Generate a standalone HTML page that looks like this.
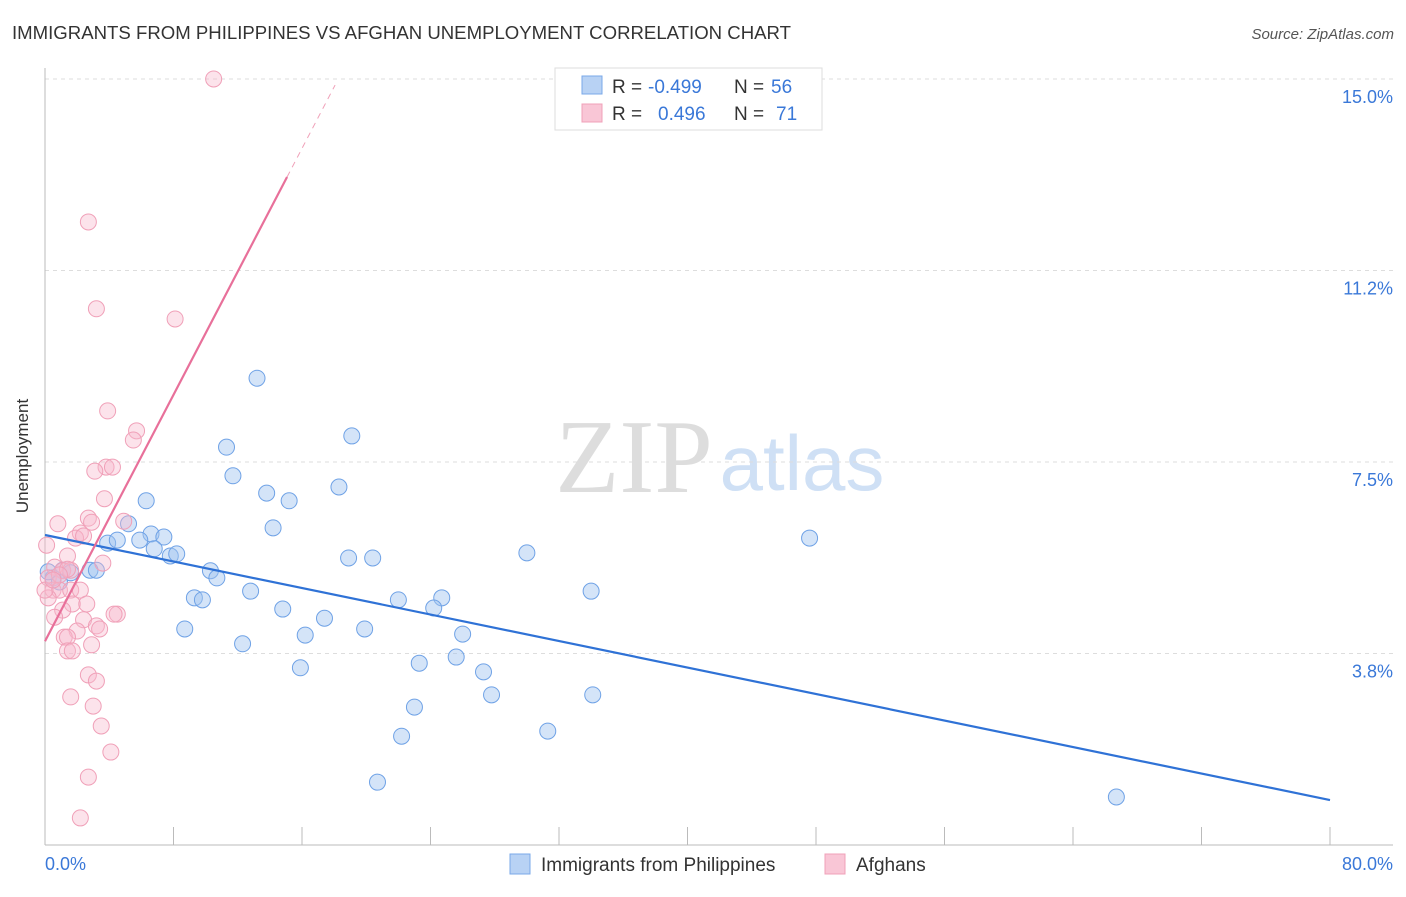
<!DOCTYPE html>
<html><head><meta charset="utf-8"><style>
body{margin:0;background:#fff;font-family:"Liberation Sans",sans-serif;}
</style></head><body>
<svg id="chart" width="1406" height="892" xmlns="http://www.w3.org/2000/svg">
<text x="12" y="39" font-size="18.6" fill="#333">IMMIGRANTS FROM PHILIPPINES VS AFGHAN UNEMPLOYMENT CORRELATION CHART</text>
<text x="1394" y="39" font-size="15" fill="#555" font-style="italic" text-anchor="end">Source: ZipAtlas.com</text>
<text x="634" y="492" font-size="105" fill="#ddd" font-family="Liberation Serif,serif" text-anchor="middle">ZIP</text>
<text x="802" y="490" font-size="78" fill="#cfe0f5" text-anchor="middle">atlas</text>
<g id="grid"></g>
<line x1="45" y1="68" x2="45" y2="845" stroke="#bbb"/>
<line x1="45" y1="845" x2="1393" y2="845" stroke="#bbb"/>
<g id="ticks"></g>
<text x="28" y="456" font-size="17" fill="#333" text-anchor="middle" transform="rotate(-90 28 456)">Unemployment</text>
<text x="45" y="870" font-size="18" fill="#3a78d8">0.0%</text>
<text x="1393" y="870" font-size="18" fill="#3a78d8" text-anchor="end">80.0%</text>
<g id="points"></g>
<g id="trends"></g>
<g>
<rect x="555" y="68" width="267" height="62" fill="#fff" stroke="#ddd"/>
<rect x="582" y="76" width="20" height="18" fill="#b8d2f4" stroke="#7aa8e8"/>
<rect x="582" y="104" width="20" height="18" fill="#f9c6d6" stroke="#f0a0b8"/>
<text y="93" font-size="19" fill="#333"><tspan x="612">R = </tspan><tspan x="648" fill="#3a78d8">-0.499</tspan><tspan x="734">N = </tspan><tspan x="771" fill="#3a78d8">56</tspan></text>
<text y="120" font-size="19" fill="#333"><tspan x="612">R = </tspan><tspan x="658" fill="#3a78d8">0.496</tspan><tspan x="734">N = </tspan><tspan x="776" fill="#3a78d8">71</tspan></text>
</g>
<rect x="510" y="854" width="20" height="20" fill="#b8d2f4" stroke="#7aa8e8"/>
<text x="541" y="871" font-size="19" fill="#333">Immigrants from Philippines</text>
<rect x="825" y="854" width="20" height="20" fill="#f9c6d6" stroke="#f0a0b8"/>
<text x="856" y="871" font-size="19" fill="#333">Afghans</text>
</svg>
<script>
const yTicks=[15.0,11.25,7.5,3.75];
const yTickLabels=["15.0%","11.2%","7.5%","3.8%"];
const xTicks=[8,16,24,32,40,48,56,64,72,80];
const blueX=[13.2,19.1,11.3,11.7,6.3,13.8,15.2,18.3,5.2,14.2,6.6,7.4,5.9,3.9,4.5,6.8,7.8,8.2,18.9,20.4,30.0,47.6,1.1,2.8,3.2,0.5,0.9,10.3,10.7,12.8,9.3,9.8,34.0,22.0,24.7,24.2,14.8,17.4,8.7,16.2,19.9,26.0,12.3,23.3,25.6,15.9,27.3,27.8,34.1,23.0,22.2,31.3,20.7,66.7,0.2,1.6];
const blueY=[9.14,8.01,7.79,7.23,6.74,6.89,6.74,7.01,6.29,6.21,6.09,6.03,5.97,5.91,5.97,5.80,5.66,5.70,5.62,5.62,5.72,6.01,5.38,5.38,5.38,5.23,5.15,5.37,5.23,4.97,4.84,4.80,4.97,4.80,4.84,4.64,4.62,4.44,4.23,4.11,4.23,4.13,3.94,3.56,3.68,3.47,3.39,2.94,2.94,2.70,2.13,2.23,1.23,0.94,5.35,5.33];
const pinkX=[10.5,2.7,3.2,8.1,3.9,5.7,5.5,3.8,4.2,3.1,3.7,4.9,2.7,0.8,2.9,2.2,1.9,2.4,1.4,3.6,0.1,0.6,1.1,1.6,0.2,0.5,0.9,1.6,2.2,0.2,1.7,2.6,1.1,0.6,4.5,4.3,2.4,3.2,3.4,2.0,1.2,1.4,2.9,1.4,1.7,2.7,3.2,1.6,3.0,3.5,4.1,2.7,2.2,1.4,0.9,0,0.5];
const pinkY=[15.0,12.2,10.5,10.3,8.50,8.11,7.93,7.40,7.40,7.32,6.78,6.34,6.40,6.29,6.32,6.11,6.01,6.05,5.66,5.52,5.87,5.44,5.37,5.38,5.23,4.99,4.99,4.99,4.99,4.84,4.72,4.72,4.60,4.46,4.52,4.52,4.41,4.29,4.23,4.19,4.07,4.07,3.92,3.80,3.80,3.33,3.21,2.90,2.72,2.33,1.82,1.33,0.53,5.40,5.29,4.99,5.19];
const blueTrend=[[0,6.07],[80,0.88]];
const pinkTrend=[[0,3.99],[15.07,13.08]];
const pinkTrendDash=[[15.07,13.08],[18.06,14.88]];
const NS="http://www.w3.org/2000/svg";
function sx(v){return 45+v/80*1285;}
function sy(v){return 845-v*51.07;}
function mk(tag,attrs,parent){const e=document.createElementNS(NS,tag);for(const k in attrs)e.setAttribute(k,attrs[k]);document.getElementById(parent).appendChild(e);return e;}
yTicks.forEach((t,i)=>{
 const l=mk('line',{x1:45,x2:1393,y1:sy(t),y2:sy(t),stroke:'#ddd','stroke-dasharray':'4 4'},'grid');
 
 
 const tx=mk('text',{x:1393,y:sy(t)+24,'font-size':18,fill:'#3a78d8','text-anchor':'end'},'grid');
 tx.textContent=yTickLabels[i];
 
 
});
xTicks.forEach(t=>{
 const l=mk('line',{x1:sx(t),x2:sx(t),y1:845,y2:827,stroke:'#bbb'},'ticks');
 
 
});
blueX.forEach((x,i)=>{
 const c=mk('circle',{cx:sx(x),cy:sy(blueY[i]),r:8,fill:'rgba(160,195,240,0.45)',stroke:'#6fa2e6','stroke-width':1},'points');
 
 
});
pinkX.forEach((x,i)=>{
 const c=mk('circle',{cx:sx(x),cy:sy(pinkY[i]),r:8,fill:'rgba(248,185,205,0.4)',stroke:'#f0a0b8','stroke-width':1},'points');
 
 
});
function line(p,col,dash,name){
 const l=mk('line',{x1:sx(p[0][0]),y1:sy(p[0][1]),x2:sx(p[1][0]),y2:sy(p[1][1]),stroke:col,'stroke-width':dash?1:2.2,'stroke-dasharray':dash||'none'},'trends');
 
 
}
line(blueTrend,'#2f72d6',null,'trend-philippines');
line(pinkTrend,'#e8709a',null,'trend-afghans');
line(pinkTrendDash,'#f0a0b8','6 5','trend-afghans-extension');
</script>
</body></html>
